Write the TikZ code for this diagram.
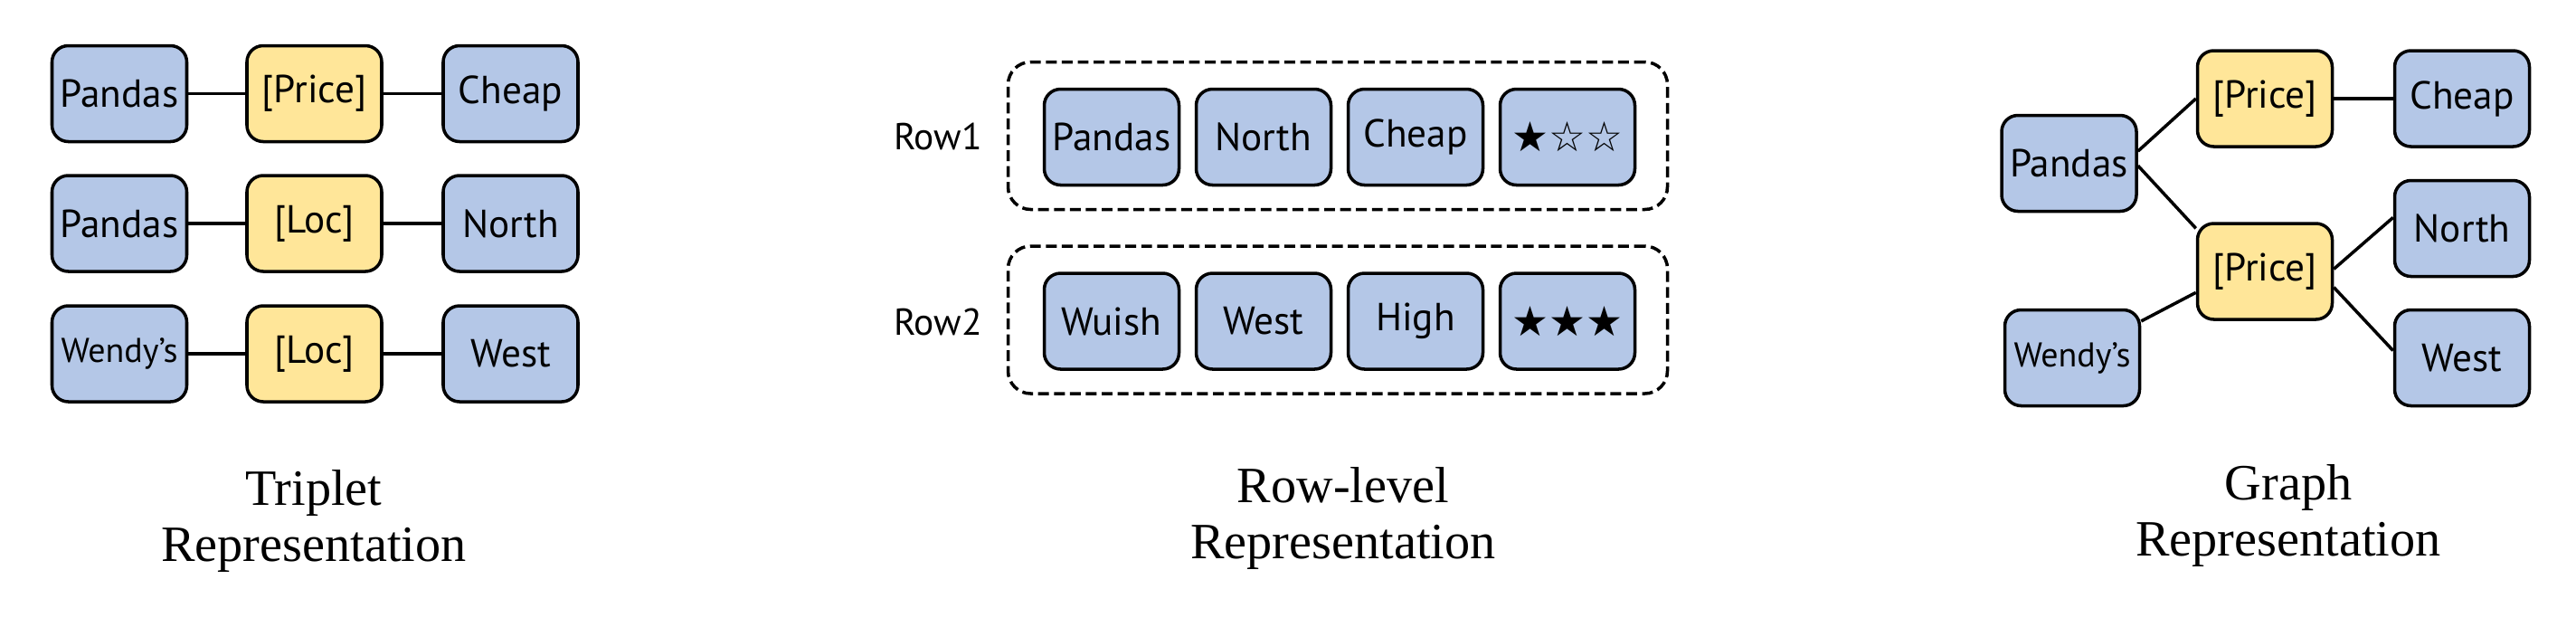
\documentclass[tikz,border=0pt]{standalone}
\usepackage{fontspec}
\setmainfont{Liberation Serif}
\newfontfamily\boxfont{PT Sans}
\newfontfamily\starfont{DejaVu Sans}
\usepackage{tikz}
\usetikzlibrary{calc}
\definecolor{entblue}{HTML}{B4C7E7}
\definecolor{relyellow}{HTML}{FFE699}
\newcommand{\stars}[1]{{\starfont\fontsize{13}{14}\selectfont #1}}
\newcommand{\wendyfont}{\fontsize{10.8}{12}\selectfont}
\newcommand{\tripletrow}[5]{%
  % 头实体、关系、尾实体,#1为行名,#2为y坐标
  \node[ent] (#1h) at (1.32, #2) {#3};
  \node[rel] (#1r) at (3.475, #2) {#4};
  \node[ent] (#1t) at (5.645, #2) {#5};
  % 连线
  \draw[edge] (#1h) -- (#1r);
  \draw[edge] (#1r) -- (#1t);
}
\begin{document}
\begin{tikzpicture}[
  ent/.style={draw, line width=1pt, fill=entblue, rounded corners=0.18cm,
    minimum width=1.49cm, minimum height=1.06cm, inner sep=1pt,
    font=\boxfont\fontsize{12.3}{14}\selectfont},
  rel/.style={ent, fill=relyellow},
  edge/.style={line width=1pt},
  dashbox/.style={draw, line width=1pt, dash pattern=on 3.4pt off 1.6pt,
    rounded corners=0.25cm, minimum width=7.29cm, minimum height=1.63cm},
  rowlab/.style={font=\boxfont\fontsize{11.8}{13}\selectfont},
  caption/.style={align=center, font=\fontsize{16}{17.5}\selectfont},
  ]
  \useasboundingbox (0,0) rectangle (28.48,-6.92);

  % 三元组表示
  \tripletrow{tra}{-1.035}{Pandas}{[Price]}{Cheap}
  \tripletrow{trb}{-2.47}{Pandas}{[Loc]}{North}
  \tripletrow{trc}{-3.91}{\wendyfont Wendy’s}{[Loc]}{West}
  \node[caption] (tcap) at (3.47,-5.76) {Triplet\\Representation};

  % 行级表示
  \node[dashbox] (rowabox) at (14.79,-1.50) {};
  \node[dashbox] (rowbbox) at (14.79,-3.535) {};
  \node[rowlab] (rowalab) at (10.37,-1.51) {Row1};
  \node[rowlab] (rowblab) at (10.37,-3.56) {Row2};
  \foreach \txt [count=\i] in {Pandas, North, Cheap, {\stars{★☆☆}}}
  {
    \node[ent] (rowa\i) at ({12.29+(\i-1)*1.68}, -1.515) {\txt};
  }
  \foreach \txt [count=\i] in {Wuish, West, High, {\stars{★★★}}}
  {
    \node[ent] (rowb\i) at ({12.29+(\i-1)*1.68}, -3.55) {\txt};
  }
  \node[caption] (rcap) at (14.85,-5.73) {Row-level\\Representation};

  % 图表示
  \node[ent] (gpandas) at (22.875,-1.805) {Pandas};
  \node[rel] (gprice1) at (25.04,-1.09) {[Price]};
  \node[ent] (gcheap) at (27.22,-1.09) {Cheap};
  \node[rel] (gprice2) at (25.04,-3.00) {[Price]};
  \node[ent] (gnorth) at (27.22,-2.525) {North};
  \node[ent] (gwendy) at (22.91,-3.955) {\wendyfont Wendy’s};
  \node[ent] (gwest) at (27.22,-3.955) {West};
  % 连线
  \draw[edge] (gpandas.10) -- (gprice1.west);
  \draw[edge] (gprice1) -- (gcheap);
  \draw[edge] (gpandas.-2) -- (gprice2.148);
  \draw[edge] (gwendy.28) -- (gprice2.197);
  \draw[edge] (gprice2.2) -- (gnorth.171);
  \draw[edge] (gprice2.-13) -- (gwest.174);
  \node[caption] (gcap) at (25.30,-5.70) {Graph\\Representation};
\end{tikzpicture}
\end{document}
